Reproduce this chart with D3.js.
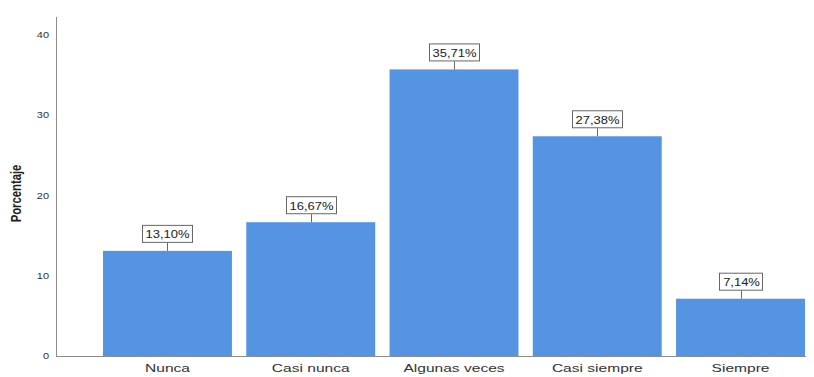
<!DOCTYPE html>
<html>
<head>
<meta charset="utf-8">
<script src="https://cdn.jsdelivr.net/npm/d3@7"></script>
<style>
  html, body { margin: 0; padding: 0; background: #fff; }
  svg { display: block; font-family: "Liberation Sans", Arial, sans-serif; }
</style>
</head>
<body>
<svg id="chart" width="814" height="377"></svg>
<script>
// Response categories and their percentage of answers
const categories = ["Nunca", "Casi nunca", "Algunas veces", "Casi siempre", "Siempre"];
const values = [13.10, 16.67, 35.71, 27.38, 7.14];
const yTicks = [0, 10, 20, 30, 40];
const yTitle = "Porcentaje";

const svg = d3.select("#chart");
const axisLeftX = 56, axisRightX = 806;
const y0 = 356;
const stretch = 1.22; // text is drawn slightly wide

const y = d3.scaleLinear().domain([0, 40]).range([y0, 35]);
const x = d3.scaleBand().domain(categories).range([103, 805]).paddingInner(0.1).paddingOuter(0);

const fmt = v => v.toFixed(2).replace(".", ",") + "%";

// Bars
svg.append("g").selectAll("rect")
  .data(values)
  .join("rect")
  .attr("x", (d, i) => x(categories[i]))
  .attr("y", d => y(d))
  .attr("width", x.bandwidth())
  .attr("height", d => y0 - y(d))
  .attr("fill", "#5594e3");

// Axis lines
svg.append("line").attr("x1", axisLeftX + 0.5).attr("x2", axisLeftX + 0.5).attr("y1", 17).attr("y2", y0)
  .attr("stroke", "#8c8c8c").attr("stroke-width", 1);
svg.append("line").attr("x1", axisLeftX).attr("x2", axisRightX).attr("y1", y0 + 0.5).attr("y2", y0 + 0.5)
  .attr("stroke", "#8c8c8c").attr("stroke-width", 1);

// Y tick labels
svg.append("g").selectAll("text")
  .data(yTicks)
  .join("text")
  .attr("transform", d => `translate(49, ${y(d)}) scale(${stretch},1)`)
  .attr("dy", "0.35em")
  .attr("text-anchor", "end")
  .attr("font-size", 9)
  .attr("fill", "#333")
  .text(d => d);

// Y axis title
svg.append("text")
  .attr("transform", `translate(21, ${y(20) - 2}) scale(${stretch},1) rotate(-90)`)
  .attr("text-anchor", "middle")
  .attr("font-size", 11.3)
  .attr("font-weight", "bold")
  .attr("fill", "#222")
  .text(yTitle);

// Category labels
svg.append("g").selectAll("text")
  .data(categories)
  .join("text")
  .attr("transform", d => `translate(${x(d) + x.bandwidth() / 2}, 371.5) scale(1.32,1)`)
  .attr("text-anchor", "middle")
  .attr("font-size", 11.8)
  .attr("fill", "#333")
  .text(d => d);

// Value labels: boxed text connected to the top of each bar
const labels = svg.append("g").selectAll("g")
  .data(values)
  .join("g")
  .attr("transform", (d, i) => `translate(${Math.round(x(categories[i]) + x.bandwidth() / 2)}, ${y(d)})`);

labels.append("line")
  .attr("x1", 0.5).attr("x2", 0.5).attr("y1", 0).attr("y2", -8)
  .attr("stroke", "#666").attr("stroke-width", 1);

labels.each(function(d) {
  const g = d3.select(this);
  const t = g.append("text")
    .attr("transform", `translate(0.5, -12.5) scale(1.18,1)`)
    .attr("text-anchor", "middle")
    .attr("font-size", 11)
    .attr("fill", "#222")
    .text(fmt(d));
  const w = t.node().getBBox().width * 1.18;
  g.insert("rect", "text")
    .attr("x", -Math.round(w / 2) - 2.5)
    .attr("y", -25.5)
    .attr("width", Math.round(w) + 6)
    .attr("height", 17)
    .attr("fill", "#fff")
    .attr("stroke", "#666")
    .attr("stroke-width", 1);
});
</script>
</body>
</html>
